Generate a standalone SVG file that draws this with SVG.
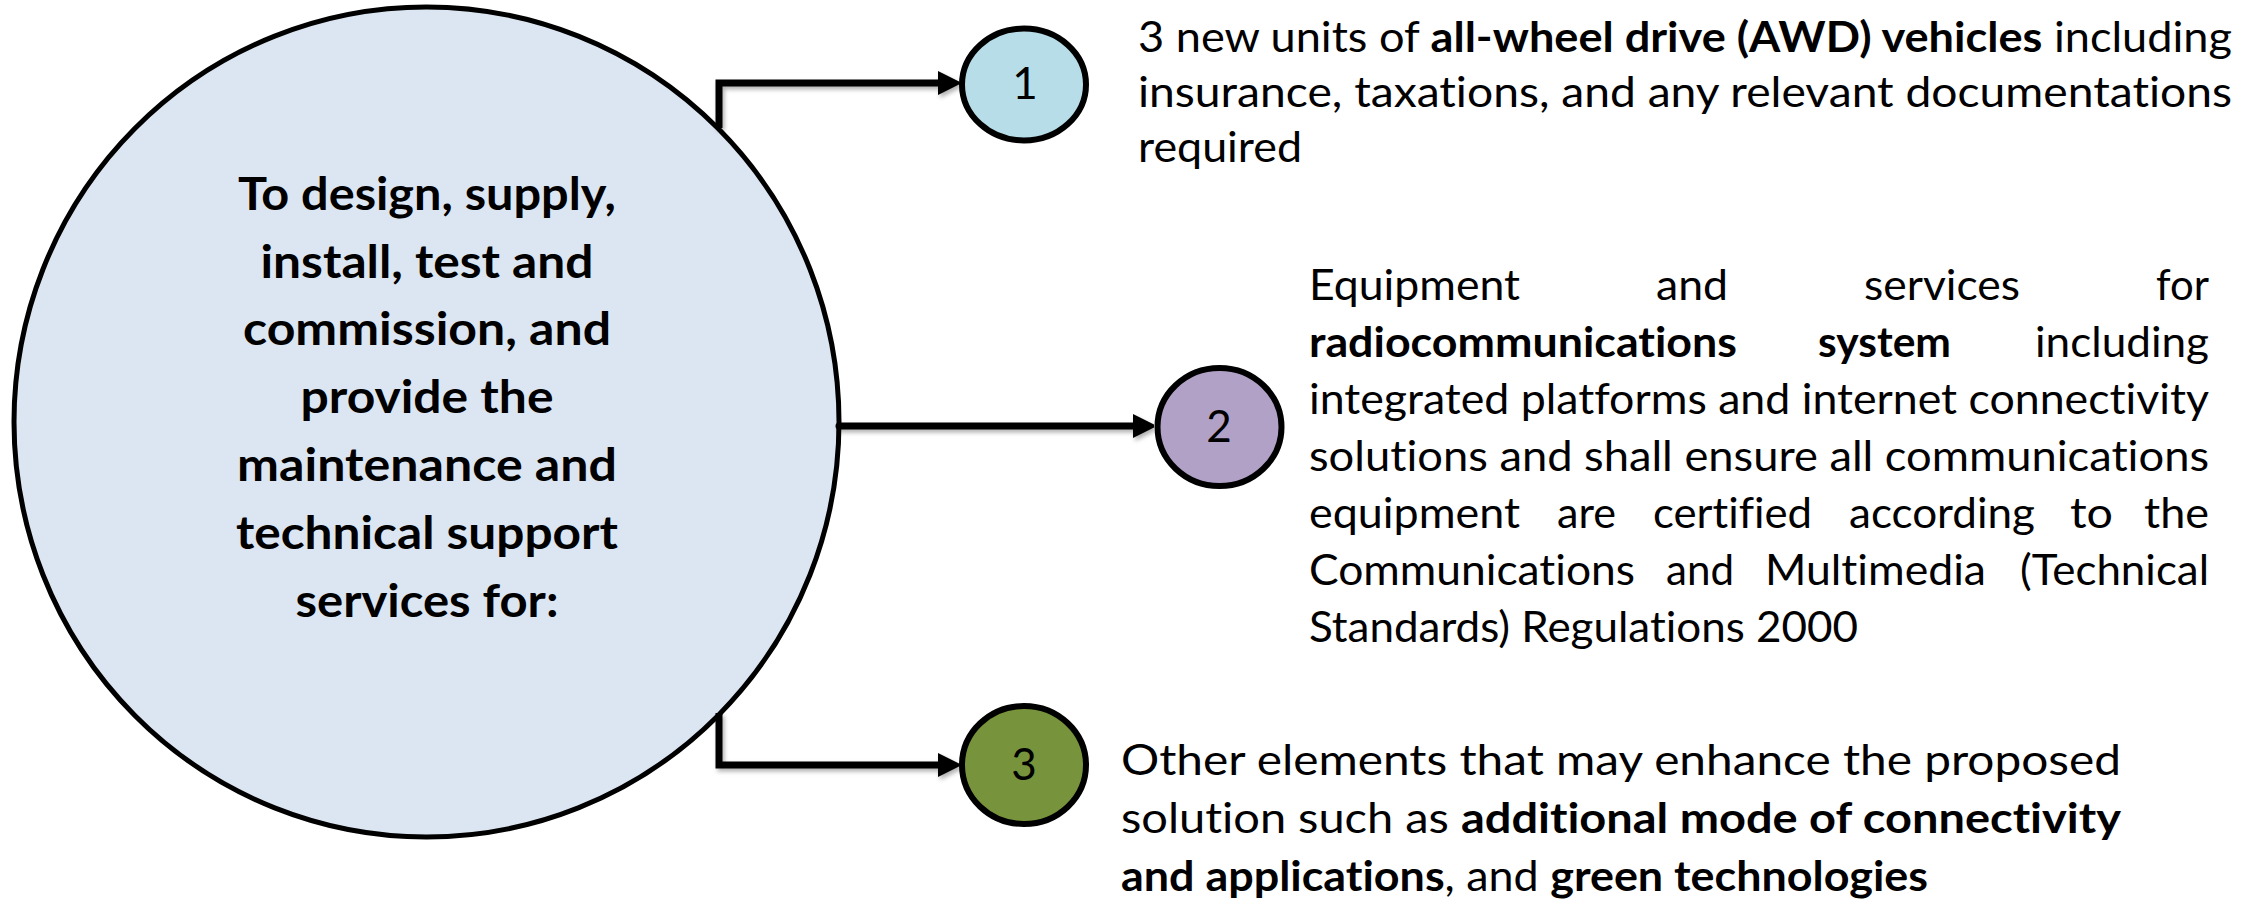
<svg xmlns="http://www.w3.org/2000/svg" width="2264" height="906" viewBox="0 0 2264 906">
<style>
text{font-variant-ligatures:none}
.t{font-family:Lato,"Open Sans","Liberation Sans",sans-serif;font-size:42px;fill:#000}
.b{font-weight:bold}
.main{font-family:Lato,"Open Sans","Liberation Sans",sans-serif;font-size:45px;font-weight:bold;text-anchor:middle;fill:#000}
.num{font-family:Lato,"Open Sans","Liberation Sans",sans-serif;font-size:44px;text-anchor:middle;fill:#000}
.node{stroke:#000;stroke-width:6}
.conn{fill:none;stroke:#000;stroke-width:7;stroke-linejoin:miter}
</style>
<defs>
<filter id="sh" x="-5%" y="-50%" width="110%" height="200%">
<feDropShadow dx="2" dy="3" stdDeviation="2" flood-color="#000" flood-opacity="0.3"/>
</filter>
<marker id="arr" markerUnits="userSpaceOnUse" markerWidth="26" markerHeight="26" refX="0" refY="12" orient="auto" viewBox="0 0 26 26">
<path d="M0,0 L24,12 L0,24 Z" fill="#000"/>
</marker>
</defs>
<rect width="2264" height="906" fill="#fff"/>
<g id="main">
<ellipse cx="426.5" cy="422" rx="412.5" ry="415" fill="#DCE6F2" stroke="#000" stroke-width="5"/>
<text class="main" x="427" y="210" textLength="378" lengthAdjust="spacingAndGlyphs">To design, supply,</text>
<text class="main" x="427" y="278" textLength="333" lengthAdjust="spacingAndGlyphs">install, test and</text>
<text class="main" x="427" y="345" textLength="368" lengthAdjust="spacingAndGlyphs">commission, and</text>
<text class="main" x="427" y="413" textLength="253" lengthAdjust="spacingAndGlyphs">provide the</text>
<text class="main" x="427" y="481" textLength="380" lengthAdjust="spacingAndGlyphs">maintenance and</text>
<text class="main" x="427" y="549" textLength="382" lengthAdjust="spacingAndGlyphs">technical support</text>
<text class="main" x="427" y="617" textLength="263" lengthAdjust="spacingAndGlyphs">services for:</text>
</g>
<g id="connectors" filter="url(#sh)">
<path class="conn" d="M719,128 V83 H938" marker-end="url(#arr)"/>
<path class="conn" d="M839,426 H1133" stroke-linecap="round" marker-end="url(#arr)"/>
<path class="conn" d="M719,713 V765 H938" marker-end="url(#arr)"/>
</g>
<g id="node1">
<ellipse class="node" cx="1024" cy="84.5" rx="62" ry="56" fill="#B7DDE8"/>
<text class="num" x="1025" y="99">1</text>
<text class="t" x="1138" y="52" textLength="1094" lengthAdjust="spacingAndGlyphs">3 new units of <tspan class="b">all-wheel drive (AWD) vehicles</tspan> including</text>
<text class="t" x="1138" y="107" textLength="1094" lengthAdjust="spacingAndGlyphs">insurance, taxations, and any relevant documentations</text>
<text class="t" x="1138" y="162" textLength="164" lengthAdjust="spacingAndGlyphs">required</text>
</g>
<g id="node2">
<ellipse class="node" cx="1219.5" cy="427" rx="62" ry="59" fill="#B2A1C7"/>
<text class="num" x="1219" y="442">2</text>
<text class="t" y="300"><tspan x="1309" textLength="211" lengthAdjust="spacingAndGlyphs">Equipment</tspan><tspan x="1656" textLength="72" lengthAdjust="spacingAndGlyphs">and</tspan><tspan x="1864" textLength="156" lengthAdjust="spacingAndGlyphs">services</tspan><tspan x="2156" textLength="53" lengthAdjust="spacingAndGlyphs">for</tspan></text>
<text class="t" y="357"><tspan class="b" x="1309" textLength="428" lengthAdjust="spacingAndGlyphs">radiocommunications</tspan><tspan class="b" x="1818" textLength="133" lengthAdjust="spacingAndGlyphs">system</tspan><tspan x="2035" textLength="174" lengthAdjust="spacingAndGlyphs">including</tspan></text>
<text class="t" x="1309" y="414" textLength="900" lengthAdjust="spacingAndGlyphs">integrated platforms and internet connectivity</text>
<text class="t" x="1309" y="471" textLength="900" lengthAdjust="spacingAndGlyphs">solutions and shall ensure all communications</text>
<text class="t" y="528"><tspan x="1309" textLength="211" lengthAdjust="spacingAndGlyphs">equipment</tspan><tspan x="1557" textLength="59" lengthAdjust="spacingAndGlyphs">are</tspan><tspan x="1653" textLength="159" lengthAdjust="spacingAndGlyphs">certified</tspan><tspan x="1849" textLength="186" lengthAdjust="spacingAndGlyphs">according</tspan><tspan x="2070" textLength="43" lengthAdjust="spacingAndGlyphs">to</tspan><tspan x="2144" textLength="65" lengthAdjust="spacingAndGlyphs">the</tspan></text>
<text class="t" y="585"><tspan x="1309" textLength="326" lengthAdjust="spacingAndGlyphs">Communications</tspan><tspan x="1666" textLength="68" lengthAdjust="spacingAndGlyphs">and</tspan><tspan x="1765" textLength="221" lengthAdjust="spacingAndGlyphs">Multimedia</tspan><tspan x="2020" textLength="189" lengthAdjust="spacingAndGlyphs">(Technical</tspan></text>
<text class="t" x="1309" y="642" textLength="549" lengthAdjust="spacingAndGlyphs">Standards) Regulations 2000</text>
</g>
<g id="node3">
<ellipse class="node" cx="1024" cy="765" rx="62" ry="59" fill="#77933C"/>
<text class="num" x="1024" y="780">3</text>
<text class="t" x="1121" y="775" textLength="1000" lengthAdjust="spacingAndGlyphs">Other elements that may enhance the proposed</text>
<text class="t" x="1121" y="833" textLength="1000" lengthAdjust="spacingAndGlyphs">solution such as <tspan class="b">additional mode of connectivity</tspan></text>
<text class="t" x="1121" y="891" textLength="807" lengthAdjust="spacingAndGlyphs"><tspan class="b">and applications</tspan>, and <tspan class="b">green technologies</tspan></text>
</g>
</svg>
